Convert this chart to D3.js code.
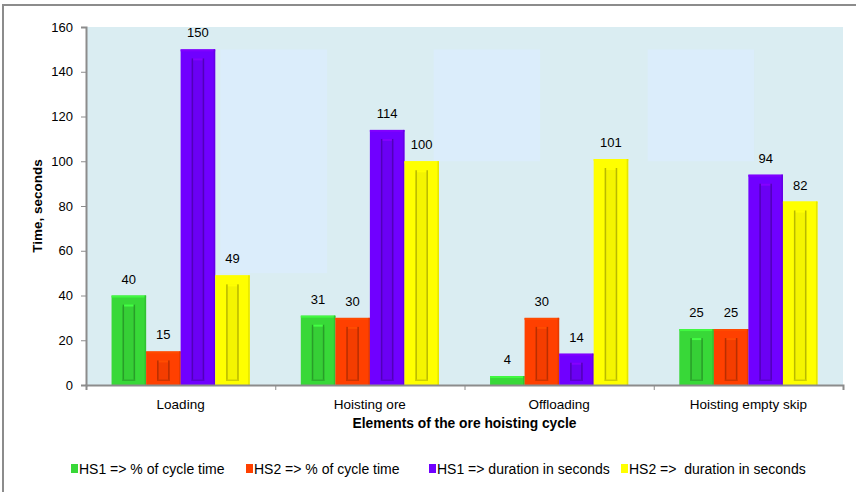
<!DOCTYPE html>
<html><head><meta charset="utf-8">
<script src="https://cdn.jsdelivr.net/npm/d3@7"></script>
<style>
html,body{margin:0;padding:0;background:#fff;}
svg text{font-family:"Liberation Sans",Arial,sans-serif;fill:#000;}
</style></head>
<body>
<svg id="chart" width="856" height="492"></svg>
<script>
const categories = ["Loading", "Hoisting ore", "Offloading", "Hoisting empty skip"];
const seriesNames = ["HS1 => % of cycle time", "HS2 => % of cycle time", "HS1 => duration in seconds", "HS2 =>  duration in seconds"];
const seriesColors = ["#38d838", "#ff4000", "#7000ff", "#ffff00"];
const hs1Percent = [40, 31, 4, 25];
const hs2Percent = [15, 30, 30, 25];
const hs1Duration = [150, 114, 14, 94];
const hs2Duration = [49, 100, 101, 82];
const yTicks = [0, 20, 40, 60, 80, 100, 120, 140, 160];
// light decorative panels behind bars: [xStart, xEnd] in category units, [yLow, yHigh] in value units
const panelX0 = [0.71, 1.837, 2.968];
const panelX1 = [1.274, 2.4, 3.53];
const panelYLow = [50, 100, 100];
const panelYHigh = [150, 150, 150];

const series = [hs1Percent, hs2Percent, hs1Duration, hs2Duration];

const svg = d3.select("#chart");
const m = {left: 86, right: 843, top: 27, bottom: 385};

// outer frame
svg.append("rect").attr("x", 3).attr("y", 5).attr("width", 900).attr("height", 600)
  .attr("fill", "none").attr("stroke", "#8c8c8c").attr("stroke-width", 2);

const x0 = d3.scaleBand().domain(categories).range([m.left, m.right]).paddingInner(0.27).paddingOuter(0.135);
const x1 = d3.scaleBand().domain(d3.range(series.length)).range([0, x0.bandwidth()]);
const xc = d3.scaleLinear().domain([0, categories.length]).range([m.left, m.right]);
const y = d3.scaleLinear().domain([0, 160]).range([m.bottom, m.top]);

// plot background
svg.append("rect").attr("x", m.left).attr("y", m.top).attr("width", m.right - m.left).attr("height", m.bottom - m.top)
  .attr("fill", "#daedf2");

// panels
svg.append("g").selectAll("rect").data(panelX0).join("rect")
  .attr("x", (d) => xc(d))
  .attr("width", (d, i) => xc(panelX1[i]) - xc(d))
  .attr("y", (d, i) => y(panelYHigh[i]))
  .attr("height", (d, i) => y(panelYLow[i]) - y(panelYHigh[i]))
  .attr("fill", "#dbedfb");

// bars
const flat = [];
categories.forEach((c, ci) => series.forEach((s, si) => flat.push({c, si, v: s[ci]})));
const g = svg.append("g");
const bars = g.selectAll("g.bar").data(flat).join("g").attr("class", "bar");
bars.each(function(d) {
  const sel = d3.select(this);
  const bx = x0(d.c) + x1(d.si), bw = x1.bandwidth();
  const by = y(d.v), bh = y(0) - y(d.v);
  const col = d3.color(seriesColors[d.si]);
  sel.append("rect").attr("x", bx).attr("y", by).attr("width", bw).attr("height", bh).attr("fill", col);
  // top highlight and right shade
  sel.append("rect").attr("x", bx).attr("y", by).attr("width", bw).attr("height", Math.min(2, bh))
    .attr("fill", col.brighter(0.4));
  sel.append("rect").attr("x", bx + bw - 1.5).attr("y", by).attr("width", 1.5).attr("height", bh)
    .attr("fill", col.darker(0.3));
  // inner bevel
  const ix = bx + 11, iw = bw - 22, iy = by + 9, ih = bh - 13;
  if (ih > 2) {
    sel.append("rect").attr("x", ix).attr("y", iy).attr("width", iw).attr("height", ih)
      .attr("fill", col.darker(0.12));
    sel.append("rect").attr("x", ix).attr("y", iy).attr("width", iw).attr("height", 2)
      .attr("fill", col.brighter(0.5));
    sel.append("rect").attr("x", ix).attr("y", iy).attr("width", 1.5).attr("height", ih)
      .attr("fill", col.darker(0.9));
    sel.append("rect").attr("x", ix + iw - 1.5).attr("y", iy).attr("width", 1.5).attr("height", ih)
      .attr("fill", col.darker(0.9));
    sel.append("rect").attr("x", ix).attr("y", iy + ih - 1.5).attr("width", iw).attr("height", 1.5)
      .attr("fill", col.darker(0.6));
  }
  sel.append("text").attr("x", bx + bw / 2).attr("y", by - 12).attr("text-anchor", "middle")
    .attr("font-size", 13).text(d.v);
});

// axes
const yAxis = svg.append("g").attr("transform", `translate(${m.left},0)`)
  .call(d3.axisLeft(y).tickValues(yTicks).tickSize(5).tickPadding(8));
yAxis.select(".domain").attr("stroke", "#8c8c8c").attr("stroke-width", 2);
yAxis.selectAll(".tick line").attr("stroke", "#8c8c8c");
yAxis.selectAll("text").attr("font-size", 13).attr("font-family", "Liberation Sans, Arial, sans-serif");

const xAxis = svg.append("g").attr("transform", `translate(0,${m.bottom})`)
  .call(d3.axisBottom(xc).tickValues(d3.range(categories.length + 1)).tickSize(5).tickFormat(""));
xAxis.select(".domain").attr("stroke", "#8c8c8c").attr("stroke-width", 2);
xAxis.selectAll(".tick line").attr("stroke", "#8c8c8c");

svg.append("g").selectAll("text").data(categories).join("text")
  .attr("x", (d) => x0(d) + x0.bandwidth() / 2).attr("y", 409)
  .attr("text-anchor", "middle").attr("font-size", 13.5).text((d) => d);

svg.append("text").attr("x", (m.left + m.right) / 2).attr("y", 428).attr("text-anchor", "middle")
  .attr("font-size", 13.8).attr("font-weight", "bold").text("Elements of the ore hoisting cycle");

svg.append("text").attr("transform", `translate(42,${(m.top + m.bottom) / 2}) rotate(-90)`)
  .attr("text-anchor", "middle").attr("font-size", 13.5).attr("font-weight", "bold").text("Time, seconds");

// legend
const legendX = [71, 246, 429, 621];
const lg = svg.append("g").selectAll("g").data(seriesNames).join("g")
  .attr("transform", (d, i) => `translate(${legendX[i]},469)`);
lg.append("rect").attr("x", 0).attr("y", -5).attr("width", 7).attr("height", 9)
  .attr("fill", (d, i) => seriesColors[i]);
lg.append("text").attr("x", 8).attr("y", 5).attr("font-size", 14).style("white-space", "pre")
  .attr("xml:space", "preserve").text((d) => d);
</script>
</body></html>
